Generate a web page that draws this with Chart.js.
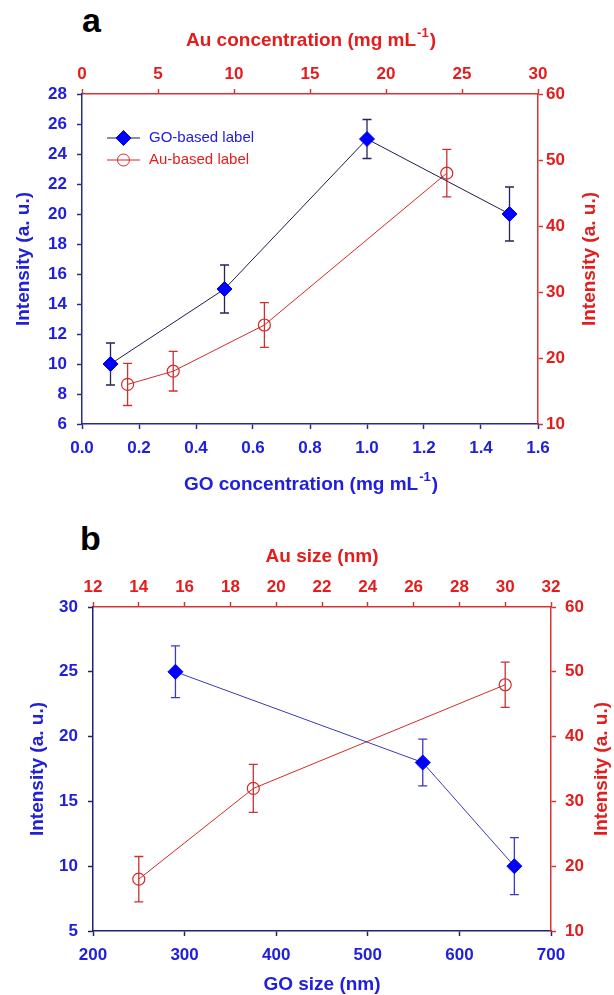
<!DOCTYPE html>
<html>
<head>
<meta charset="utf-8">
<script src="https://cdn.jsdelivr.net/npm/chart.js@4"></script>
<style>
  body { margin: 0; background: #fff; width: 614px; height: 995px; position: relative; overflow: hidden; }
  canvas { position: absolute; left: 0; }
  #chartA { top: 0; }
  #chartB { top: 495px; }
  .tag { position: absolute; font: bold 34px "Liberation Sans", Arial, sans-serif; line-height: 34px; color: #000; }
</style>
</head>
<body>
<div class="tag" style="left:82px;top:3px">a</div>
<div class="tag" style="left:80px;top:521px">b</div>
<canvas id="chartA" width="614" height="495"></canvas>
<canvas id="chartB" width="614" height="500"></canvas>
<script>
// panel a: concentration
const goConcA = [0.1, 0.5, 1.0, 1.5];
const goIntA = [10, 15, 25, 20];
const goErrA = [1.4, 1.6, 1.3, 1.8];
const auConcA = [3, 6, 12, 24];
const auIntA = [16, 18, 25, 48];
const auErrA = [3.2, 3.0, 3.4, 3.6];

// panel b: size
const goSizeB = [290, 560, 660];
const goIntB = [25, 18, 10];
const goErrB = [2.0, 1.8, 2.2];
const auSizeB = [14, 19, 30];
const auIntB = [18, 32, 48];
const auErrB = [3.5, 3.7, 3.5];

const seriesLabels = ['GO-based label', 'Au-based label'];

const FONT = '"Liberation Sans", Arial, sans-serif';
const BLUE = '#2020dc';
const RED = '#e41c1c';
const RED_AXIS = '#d83434';

// vertical error bars, drawn under the markers
const errorBars = {
  id: 'errorBars',
  beforeDatasetsDraw(chart) {
    const ctx = chart.ctx;
    chart.data.datasets.forEach(ds => {
      const xs = chart.scales[ds.xAxisID], ys = chart.scales[ds.yAxisID];
      ctx.save();
      ctx.strokeStyle = ds.errorColor;
      ctx.lineWidth = 1.3;
      ds.data.forEach((p, j) => {
        const x = xs.getPixelForValue(p.x);
        const top = ys.getPixelForValue(p.y + ds.errors[j]);
        const bot = ys.getPixelForValue(p.y - ds.errors[j]);
        ctx.beginPath();
        ctx.moveTo(x, top); ctx.lineTo(x, bot);
        ctx.moveTo(x - 4.5, top); ctx.lineTo(x + 4.5, top);
        ctx.moveTo(x - 4.5, bot); ctx.lineTo(x + 4.5, bot);
        ctx.stroke();
      });
      ctx.restore();
    });
  }
};

// axis titles with optional superscript
const axisTitles = {
  id: 'axisTitles',
  afterDraw(chart, args, opts) {
    const ctx = chart.ctx, a = chart.chartArea;
    (opts.items || []).forEach(t => {
      const main = `bold ${t.size}px ${FONT}`;
      const small = `bold ${Math.round(t.size * 0.68)}px ${FONT}`;
      let cx, cy, rot = 0;
      if (t.pos === 'top' || t.pos === 'bottom') {
        cx = (a.left + a.right) / 2; cy = t.at;
      } else {
        cx = t.at; cy = (a.top + a.bottom) / 2; rot = -Math.PI / 2;
      }
      ctx.save();
      ctx.translate(cx, cy);
      ctx.rotate(rot);
      ctx.font = main;
      const w1 = ctx.measureText(t.text).width;
      let w2 = 0, w3 = 0;
      if (t.sup) {
        ctx.font = small; w2 = ctx.measureText(t.sup).width;
        ctx.font = main; w3 = ctx.measureText(t.after).width;
      }
      let x = -(w1 + w2 + w3) / 2;
      ctx.fillStyle = t.color;
      ctx.textBaseline = 'middle';
      ctx.textAlign = 'left';
      ctx.font = main;
      ctx.fillText(t.text, x, 0);
      x += w1;
      if (t.sup) {
        ctx.font = small;
        ctx.fillText(t.sup, x + 1, -t.size * 0.4);
        x += w2 + 2;
        ctx.font = main;
        ctx.fillText(t.after, x, 0);
      }
      ctx.restore();
    });
  }
};

// small legend inside the plot area (panel a)
const innerLegend = {
  id: 'innerLegend',
  afterDraw(chart, args, opts) {
    if (!opts.show) return;
    const ctx = chart.ctx, a = chart.chartArea;
    chart.data.datasets.forEach((ds, i) => {
      const y = a.top + opts.top + i * opts.gap;
      const x0 = a.left + opts.left, x1 = x0 + opts.lineLen, xm = (x0 + x1) / 2;
      const r = ds.pointRadius;
      ctx.save();
      ctx.strokeStyle = ds.borderColor;
      ctx.lineWidth = 1.2;
      ctx.beginPath(); ctx.moveTo(x0, y); ctx.lineTo(x1, y); ctx.stroke();
      ctx.fillStyle = ds.pointBackgroundColor;
      ctx.strokeStyle = ds.pointBorderColor;
      ctx.lineWidth = 1;
      ctx.beginPath();
      if (ds.pointStyle === 'rectRot') {
        ctx.moveTo(xm - r, y); ctx.lineTo(xm, y - r); ctx.lineTo(xm + r, y); ctx.lineTo(xm, y + r); ctx.closePath();
      } else {
        ctx.arc(xm, y, r, 0, Math.PI * 2);
      }
      ctx.fill(); ctx.stroke();
      ctx.font = `15px ${FONT}`;
      ctx.fillStyle = ds.legendColor;
      ctx.textBaseline = 'middle';
      ctx.fillText(ds.label, x1 + opts.textGap, y);
      ctx.restore();
    });
  }
};

function axis(pos, min, max, step, textColor, lineColor, pad, size, fmt) {
  return {
    type: 'linear',
    axis: (pos === 'top' || pos === 'bottom') ? 'x' : 'y',
    position: pos,
    min: min,
    max: max,
    ticks: {
      stepSize: step,
      color: textColor,
      padding: pad,
      autoSkip: false,
      maxRotation: 0,
      font: { family: FONT, size: 17, weight: 'bold' },
      callback: fmt || (v => v)
    },
    grid: { drawOnChartArea: false, drawTicks: true, tickLength: 5, tickWidth: 1.5, color: lineColor, tickColor: lineColor },
    border: { display: true, color: lineColor, width: 1.5 },
    afterFit: s => { if (s.isHorizontal()) s.height = size; else s.width = size; }
  };
}

function goSet(xs, ys, errs, lineColor, errColor) {
  return {
    label: seriesLabels[0],
    data: xs.map((x, i) => ({ x: x, y: ys[i] })),
    xAxisID: 'x', yAxisID: 'y',
    showLine: true,
    borderColor: lineColor,
    borderWidth: 1,
    pointStyle: 'rectRot',
    pointRadius: 7.5,
    pointBackgroundColor: '#0000ff',
    pointBorderColor: '#0000ff',
    pointBorderWidth: 1,
    errors: errs,
    errorColor: errColor,
    legendColor: BLUE
  };
}

function auSet(xs, ys, errs) {
  return {
    label: seriesLabels[1],
    data: xs.map((x, i) => ({ x: x, y: ys[i] })),
    xAxisID: 'x2', yAxisID: 'y2',
    showLine: true,
    borderColor: '#d42a2a',
    borderWidth: 1,
    pointStyle: 'circle',
    pointRadius: 6,
    pointBackgroundColor: 'rgba(255,255,255,0)',
    pointBorderColor: '#d42a2a',
    pointBorderWidth: 1.2,
    errors: errs,
    errorColor: '#cc3030',
    legendColor: RED
  };
}

const commonPlugins = [errorBars, axisTitles, innerLegend];

// ---- panel a ----
new Chart(document.getElementById('chartA'), {
  type: 'scatter',
  data: {
    datasets: [
      goSet(goConcA, goIntA, goErrA, '#1e1e46', '#25255a'),
      auSet(auConcA, auIntA, auErrA)
    ]
  },
  options: {
    responsive: false,
    animation: false,
    layout: { padding: 0 },
    scales: {
      x: axis('bottom', 0, 1.6, 0.2, BLUE, '#2a2a8c', 9, 71, v => v.toFixed(1)),
      x2: axis('top', 0, 30, 5, RED, RED_AXIS, 4, 94),
      y: axis('left', 6, 28, 2, BLUE, '#2a2a8c', 10, 82),
      y2: axis('right', 10, 60, 10, RED, RED_AXIS, 3, 76)
    },
    plugins: {
      legend: { display: false },
      tooltip: { enabled: false },
      axisTitles: {
        items: [
          { pos: 'top', at: 41, size: 19, color: RED, text: 'Au concentration (mg mL', sup: '-1', after: ')' },
          { pos: 'bottom', at: 485, size: 19, color: BLUE, text: 'GO concentration (mg mL', sup: '-1', after: ')' },
          { pos: 'left', at: 24, size: 19, color: BLUE, text: 'Intensity (a. u.)' },
          { pos: 'right', at: 590, size: 19, color: RED, text: 'Intensity (a. u.)' }
        ]
      },
      innerLegend: { show: true, left: 25, top: 44, gap: 22, lineLen: 33, textGap: 9 }
    }
  },
  plugins: commonPlugins
});

// ---- panel b ----
new Chart(document.getElementById('chartB'), {
  type: 'scatter',
  data: {
    datasets: [
      goSet(goSizeB, goIntB, goErrB, '#3a3ab4', '#3a3ac8'),
      auSet(auSizeB, auIntB, auErrB)
    ]
  },
  options: {
    responsive: false,
    animation: false,
    layout: { padding: 0 },
    scales: {
      x: axis('bottom', 200, 700, 100, BLUE, '#22226e', 9, 64),
      x2: axis('top', 12, 32, 2, RED, RED_AXIS, 4, 112),
      y: axis('left', 5, 30, 5, BLUE, '#22226e', 10, 93),
      y2: axis('right', 10, 60, 10, RED, RED_AXIS, 9, 63)
    },
    plugins: {
      legend: { display: false },
      tooltip: { enabled: false },
      axisTitles: {
        items: [
          { pos: 'top', at: 62, size: 19, color: RED, text: 'Au size (nm)' },
          { pos: 'bottom', at: 490, size: 19, color: BLUE, text: 'GO size (nm)' },
          { pos: 'left', at: 38, size: 19, color: BLUE, text: 'Intensity (a. u.)' },
          { pos: 'right', at: 602, size: 19, color: RED, text: 'Intensity (a. u.)' }
        ]
      },
      innerLegend: { show: false }
    }
  },
  plugins: commonPlugins
});
</script>
</body>
</html>
